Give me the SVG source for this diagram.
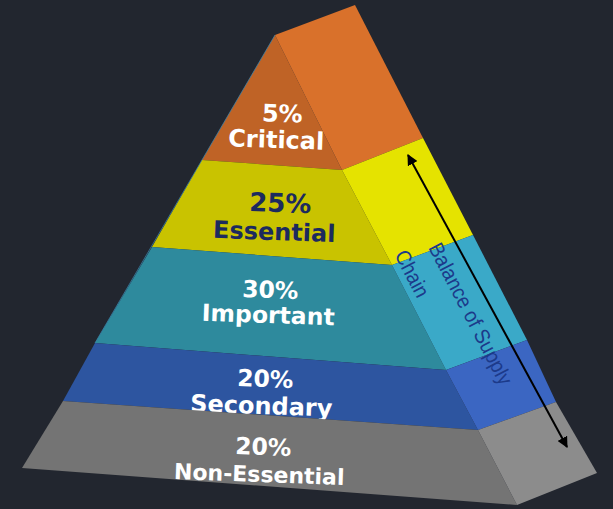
<svg xmlns="http://www.w3.org/2000/svg" width="613" height="509" viewBox="0 0 613 509">
  <style>
    .lbl { font-family: "DejaVu Sans", "Liberation Sans", sans-serif; font-weight: bold; text-anchor: middle; }
    .w { fill: #ffffff; }
    .n { fill: #1c2a5e; }
    .side { font-family: "Liberation Sans", Arial, sans-serif; font-size: 21px; fill: #1c3a8a; }
    .conn { stroke: #000000; stroke-width: 2; fill: none; }
  </style>
  <defs>
    <marker id="ah" viewBox="0 0 10 10" refX="9" refY="5" markerWidth="5.5" markerHeight="5.5" orient="auto-start-reverse" markerUnits="strokeWidth">
      <path d="M0,0 L10,5 L0,10 z" fill="#000000"/>
    </marker>
  </defs>
  <rect width="613" height="509" fill="#22262f"/>

  <g id="critical">
    <polygon points="275,35 342,170 202,160" fill="#bf6326"/>
    <polygon points="275,35 355,5 423,138 342,170" fill="#d9712b"/>
    <text class="lbl w" font-size="24" transform="rotate(2 282 122)" x="282" y="122">5%</text>
    <text class="lbl w" font-size="24" transform="rotate(2 276 148)" x="276" y="148">Critical</text>
  </g>

  <g id="essential">
    <polygon points="202,160 342,170 392,265 152,247" fill="#c9c300"/>
    <polygon points="342,170 423,138 473,235 392,265" fill="#e5e300"/>
    <text class="lbl n" font-size="26" transform="rotate(2 280 212)" x="280" y="212">25%</text>
    <text class="lbl n" font-size="24" transform="rotate(2 274 240)" x="274" y="240">Essential</text>
  </g>

  <g id="important">
    <polygon points="152,247 392,265 446,370 95,343" fill="#2e8a9d"/>
    <polygon points="392,265 473,235 527,340 446,370" fill="#3aa9c8"/>
    <text class="lbl w" font-size="23.5" transform="rotate(2 270 298)" x="270" y="298">30%</text>
    <text class="lbl w" font-size="23.5" transform="rotate(2 268 323)" x="268" y="323">Important</text>
  </g>

  <g id="secondary">
    <polygon points="95,343 446,370 478,430 63,401" fill="#2d55a0"/>
    <polygon points="446,370 527,340 556,402 478,430" fill="#3b66c2"/>
    <text class="lbl w" font-size="23.5" transform="rotate(2 265 387)" x="265" y="387">20%</text>
    <text class="lbl w" font-size="24" transform="rotate(2 261 414)" x="261" y="414">Secondary</text>
  </g>

  <g id="non-essential">
    <polygon points="63,401 478,430 517,505 22,468" fill="#747474"/>
    <polygon points="478,430 556,402 597,473 517,505" fill="#8c8c8c"/>
    <text class="lbl w" font-size="23.5" transform="rotate(2 263 455)" x="263" y="455">20%</text>
    <text class="lbl w" font-size="22" transform="rotate(2 259 482)" x="259" y="482">Non-Essential</text>
  </g>

  <line x1="275" y1="35" x2="95" y2="343" stroke="#3d8ab5" stroke-width="1" opacity="0.7"/>

  <g id="balance-label">
    <g transform="translate(428 247.4) rotate(62.5)">
      <text class="side" x="0" y="0" textLength="157" lengthAdjust="spacingAndGlyphs">Balance of Supply</text>
      <text class="side" x="-9" y="33.4" textLength="50" lengthAdjust="spacingAndGlyphs">Chain</text>
    </g>
  </g>

  <g id="connectors">
    <line class="conn" x1="408" y1="155" x2="567" y2="447" marker-start="url(#ah)" marker-end="url(#ah)"/>
  </g>
</svg>
